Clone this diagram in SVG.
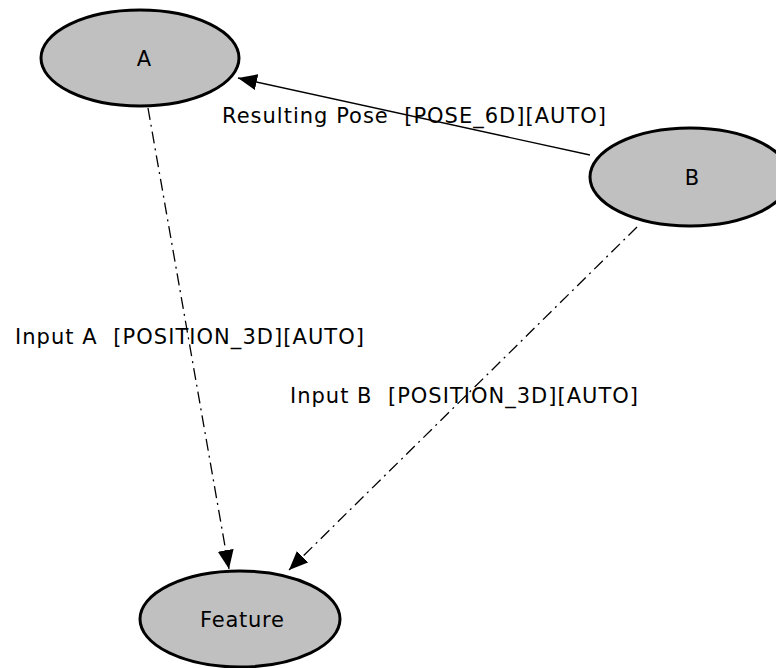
<svg xmlns="http://www.w3.org/2000/svg" width="776" height="668" viewBox="0 0 776 668">
<style>
.node ellipse{fill:#c0c0c0;stroke:#000;stroke-width:3}
text{font-family:"DejaVu Sans",sans-serif;font-size:21px;fill:#000;white-space:pre}
.node text{text-anchor:middle}
.edge{fill:none;stroke:#000;stroke-width:1.3}
.dd{stroke-dasharray:12,5,2,5}
</style>
<defs>
<marker id="ah" viewBox="0 0 19 16" refX="19" refY="8" markerWidth="19" markerHeight="16" markerUnits="userSpaceOnUse" orient="auto">
<path d="M0,0 L19,8 L0,16 Z" fill="#000"/>
</marker>
</defs>
<rect width="776" height="668" fill="#fff"/>
<g id="edges">
<line class="edge" x1="590" y1="155" x2="238" y2="78" marker-end="url(#ah)"/>
<line class="edge dd" x1="148" y1="108" x2="229" y2="569" marker-end="url(#ah)"/>
<line class="edge dd" x1="637" y1="227" x2="289" y2="570" marker-end="url(#ah)"/>
<text x="222" y="123" xml:space="preserve" textLength="384" lengthAdjust="spacing">Resulting Pose  [POSE_6D][AUTO]</text>
<text x="15" y="344" xml:space="preserve" textLength="349" lengthAdjust="spacing">Input A  [POSITION_3D][AUTO]</text>
<text x="290" y="403" xml:space="preserve" textLength="348" lengthAdjust="spacing">Input B  [POSITION_3D][AUTO]</text>
</g>
<g id="A" class="node">
<ellipse cx="140" cy="58" rx="99" ry="48"/>
<text x="144" y="66">A</text>
</g>
<g id="B" class="node">
<ellipse cx="690" cy="177" rx="100" ry="49"/>
<text x="692" y="185">B</text>
</g>
<g id="Feature" class="node">
<ellipse cx="240" cy="619" rx="100" ry="48"/>
<text x="242" y="627" textLength="84" lengthAdjust="spacing">Feature</text>
</g>
</svg>
